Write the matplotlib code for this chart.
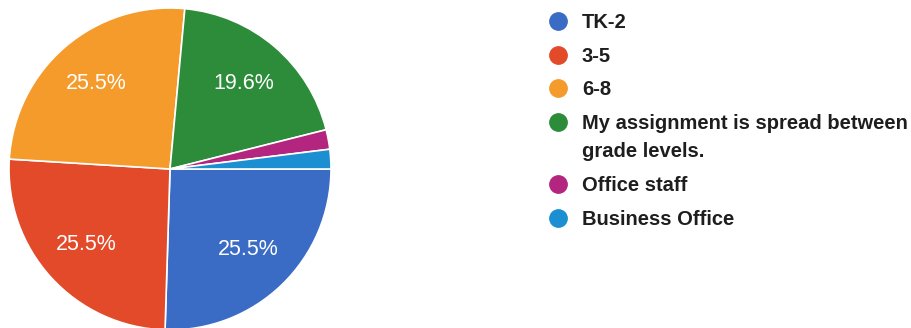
import matplotlib.pyplot as plt
from matplotlib.lines import Line2D
from matplotlib.legend_handler import HandlerLine2D

plt.rcParams['font.family'] = ['Liberation Sans', 'DejaVu Sans']

labels = ['TK-2', '3-5', '6-8',
          'My assignment is spread between\ngrade levels.',
          'Office staff', 'Business Office']
counts = [13, 13, 13, 10, 1, 1]
colors = ['#3a6cc6', '#e24a2a', '#f49b2c', '#2c8c3a', '#b3257f', '#1c8fd2']

fig = plt.figure(figsize=(9.12, 3.28), dpi=100)

# pie sits in the left part, legend to the right
ax = fig.add_axes([9 / 912, -2 / 328, 322 / 912, 322 / 328])

def fmt(p):
    return f'{p:.1f}%' if p > 5 else ''

wedges, _, autotexts = ax.pie(
    counts, colors=colors, startangle=0, counterclock=False,
    autopct=fmt, pctdistance=0.7, radius=1,
    wedgeprops=dict(edgecolor='white', linewidth=1.2),
    textprops=dict(color='white', fontsize=15.5))
ax.set_xlim(-1, 1)
ax.set_ylim(-1, 1)
ax.set_aspect('equal')


class FirstLineHandler(HandlerLine2D):
    # keep the marker next to the first line of a wrapped label
    def __init__(self, shift, **kw):
        super().__init__(**kw)
        self.shift = shift

    def create_artists(self, *args, **kw):
        arts = super().create_artists(*args, **kw)
        for a in arts:
            a.set_ydata([y + self.shift for y in a.get_ydata()])
        return arts


handles = [Line2D([], [], marker='o', linestyle='', markersize=12.5,
                  markerfacecolor=c, markeredgecolor=c) for c in colors]
leg = fig.legend(handles, labels, loc='upper left',
                 bbox_to_anchor=(538 / 912, 1 - 3 / 328),
                 frameon=False, handlelength=1.0,
                 handletextpad=0.68, labelspacing=0.73, borderpad=0,
                 handler_map={handles[3]: FirstLineHandler(11.5)},
                 prop=dict(weight='bold', size=14.5))
for t in leg.get_texts():
    t.set_color('#1e1e1e')
    t.set_linespacing(1.6)

fig.savefig('out.png', dpi=100)
